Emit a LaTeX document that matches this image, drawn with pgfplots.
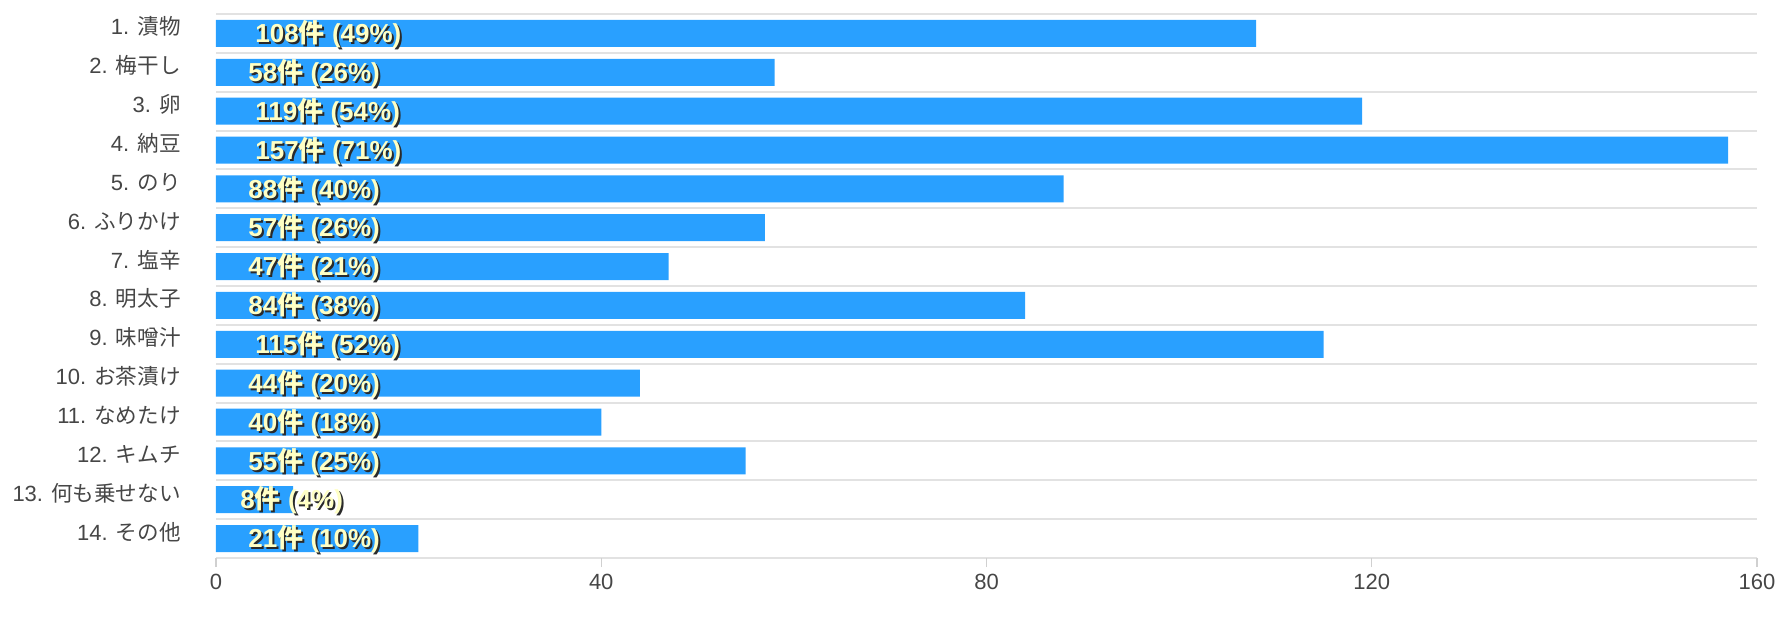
\documentclass[border=0pt]{standalone}
\usepackage{pgfplots}
\pgfplotsset{compat=1.18}
\usepackage{fontspec}
\setmainfont{Liberation Sans}
\newfontfamily\jp[Scale=0.98]{Noto Sans CJK JP}
\newfontfamily\jpb{Noto Sans CJK JP}
\definecolor{barblue}{HTML}{29A0FF}
\definecolor{cream}{HTML}{FFFFC4}
\definecolor{shadowc}{HTML}{2A2A2A}
\definecolor{textc}{HTML}{464646}
\definecolor{gridc}{HTML}{E2E2E2}
\definecolor{tickc}{HTML}{D0D0D0}
\newcommand\ken{{\jpb\bfseries 件}}
\newcommand\shadowtext[1]{\rlap{\hspace{1pt}\raisebox{-1pt}{\color{shadowc}#1}}{\color{cream}#1}}
\pgfplotsset{barlab/.style={draw=none, mark=none,
  nodes near coords={\shadowtext{\pgfplotspointmeta}},
  point meta=explicit symbolic,
  nodes near coords align={anchor=base west},
  every node near coord/.append style={font=\fontsize{13}{15}\selectfont\bfseries, inner sep=0pt, anchor=base west, yshift=-4.6pt, xshift=#1}}}
\begin{document}
\begin{tikzpicture}
\begin{axis}[
  scale only axis, width=770.5pt, height=272pt,
  xmin=0, xmax=160, ymin=0.5, ymax=14.5, y dir=reverse,
  xtick={0,40,80,120,160},
  ytick={1,...,14},
  yticklabels={1. {\jp 漬物}, 2. {\jp 梅干し}, 3. {\jp 卵}, 4. {\jp 納豆}, 5. {\jp のり}, 6. {\jp ふりかけ}, 7. {\jp 塩辛}, 8. {\jp 明太子}, 9. {\jp 味噌汁}, 10. {\jp お茶漬け}, 11. {\jp なめたけ}, 12. {\jp キムチ}, 13. {\jp 何も乗せない}, 14. {\jp その他}},
  minor ytick={0.5,1.5,...,14.5},
  yminorgrids, minor grid style={draw=gridc, line width=1pt},
  axis line style={draw=none},
  tick align=outside,
  xtick pos=bottom,
  xtick style={draw=tickc, line width=0.6pt},
  major tick length=4.5pt,
  ytick style={draw=none}, minor tick length=0pt,
  /pgf/number format/assume math mode=true,
  x tick label style={font=\fontsize{11}{13}\selectfont, text=textc, anchor=base, inner sep=0pt, yshift=-11pt},
  y tick label style={font=\fontsize{11}{13}\selectfont, text=textc, anchor=base east, inner sep=0pt, xshift=-13pt, yshift=-0.75pt},
  clip=false,
]
\addplot[xbar, bar width=13.5pt, fill=barblue, draw=none] coordinates {
  (108,1) (58,2) (119,3) (157,4) (88,5) (57,6) (47,7) (84,8) (115,9) (44,10) (40,11) (55,12) (8,13) (21,14)};
% three-digit labels
\addplot[barlab=19.5pt] coordinates {
  (0,1) [108\ken{} (49\%)] (0,3) [119\ken{} (54\%)] (0,4) [157\ken{} (71\%)] (0,9) [115\ken{} (52\%)]};
% two-digit labels
\addplot[barlab=16pt] coordinates {
  (0,2) [58\ken{} (26\%)] (0,5) [88\ken{} (40\%)] (0,6) [57\ken{} (26\%)] (0,7) [47\ken{} (21\%)] (0,8) [84\ken{} (38\%)]
  (0,10) [44\ken{} (20\%)] (0,11) [40\ken{} (18\%)] (0,12) [55\ken{} (25\%)] (0,14) [21\ken{} (10\%)]};
% one-digit label
\addplot[barlab=12pt] coordinates {(0,13) [8\ken{} (4\%)]};
\end{axis}
\pgfresetboundingbox
\path[use as bounding box] ([shift={(-108pt,-30pt)}]current axis.south west) rectangle ([shift={(15pt,7pt)}]current axis.north east);
\end{tikzpicture}
\end{document}
